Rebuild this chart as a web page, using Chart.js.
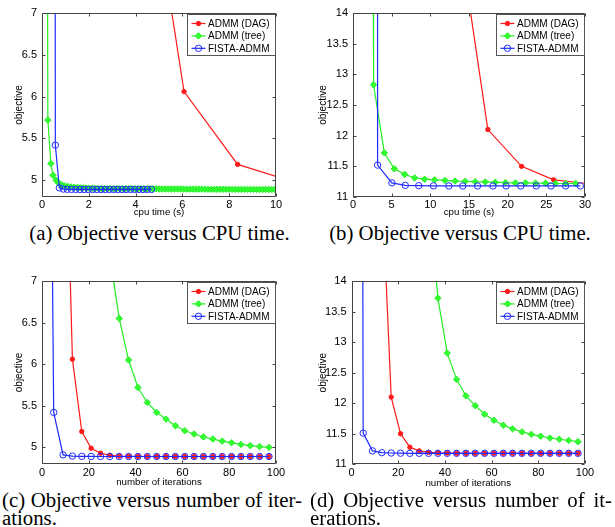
<!DOCTYPE html>
<html><head><meta charset="utf-8">
<script src="https://cdn.jsdelivr.net/npm/chart.js@4"></script>
<style>
html,body{margin:0;padding:0;background:#fff;width:615px;height:527px;overflow:hidden}
body{position:relative}
canvas{position:absolute}
.cap{position:absolute;font-family:"Liberation Serif","Times New Roman",serif;font-size:20.8px;line-height:18px;color:#000;white-space:nowrap}
.just{text-align:justify;text-align-last:justify}
.ctr{text-align:center}
</style></head><body>
<canvas id="ca" width="300" height="218" style="left:0;top:0"></canvas>
<canvas id="cb" width="300" height="218" style="left:305px;top:0"></canvas>
<canvas id="cc" width="300" height="223" style="left:0;top:265px"></canvas>
<canvas id="cd" width="300" height="224" style="left:305px;top:265px"></canvas>
<div class="cap ctr" style="left:22px;top:224px;width:275px">(a) Objective versus CPU time.</div>
<div class="cap ctr" style="left:325px;top:224px;width:270px">(b) Objective versus CPU time.</div>
<div class="cap just" style="left:2px;top:491px;width:300px">(c) Objective versus number of iter-</div>
<div class="cap" style="left:2px;top:509px">ations.</div>
<div class="cap just" style="left:310px;top:491px;width:302px">(d) Objective versus number of it-</div>
<div class="cap" style="left:310px;top:509px">erations.</div>
<script>
// ---------- data ----------
const legendLabels = ['ADMM (DAG)', 'ADMM (tree)', 'FISTA-ADMM'];

// (a) objective vs cpu time (s)
const aDagTime = [3.78, 6.07, 8.36, 10.65];
const aDagObj  = [10.2, 6.06, 5.19, 4.99];
const aTreeTime = [0.2, 0.25, 0.38, 0.47, 0.6,
  0.72, 0.85, 0.98, 1.11, 1.24, 1.37, 1.5, 1.63, 1.76, 1.89, 2.02, 2.15, 2.28, 2.41, 2.54, 2.67, 2.8,
  2.93, 3.06, 3.19, 3.32, 3.45, 3.58, 3.71, 3.84,
  3.97, 4.1, 4.23, 4.36, 4.49, 4.62, 4.75, 4.88,
  5.01, 5.14, 5.27, 5.4, 5.53, 5.66, 5.79, 5.92,
  6.05, 6.18, 6.31, 6.44, 6.57, 6.7, 6.83, 6.96,
  7.09, 7.22, 7.35, 7.48, 7.61, 7.74, 7.87, 8.0,
  8.13, 8.26, 8.39, 8.52, 8.65, 8.78, 8.91, 9.04,
  9.17, 9.3, 9.43, 9.56, 9.69, 9.82, 9.95];
const aTreeObj = [12, 5.72, 5.2, 5.06, 5.0,
  4.965, 4.945, 4.932, 4.925, 4.92, 4.916, 4.913, 4.911, 4.909, 4.907, 4.906, 4.905, 4.904, 4.903, 4.902, 4.901, 4.9,
  4.9, 4.9, 4.9, 4.9, 4.9, 4.9, 4.9, 4.9,
  4.898, 4.898, 4.898, 4.898, 4.898, 4.898, 4.898, 4.898,
  4.896, 4.896, 4.896, 4.896, 4.896, 4.896, 4.896, 4.896,
  4.894, 4.894, 4.894, 4.894, 4.894, 4.894, 4.894, 4.894,
  4.892, 4.892, 4.892, 4.892, 4.892, 4.892, 4.892, 4.892,
  4.891, 4.891, 4.891, 4.891, 4.891, 4.891, 4.891, 4.891,
  4.89, 4.89, 4.89, 4.89, 4.89, 4.89, 4.89];
const aFistaTime = [0.53, 0.57, 0.74, 0.91, 1.08, 1.26, 1.44, 1.62, 1.8, 1.98, 2.16, 2.34, 2.52,
  2.7, 2.88, 3.06, 3.24, 3.42, 3.6, 3.78, 3.96, 4.14, 4.32, 4.5, 4.68];
const aFistaObj = [18, 5.42, 4.91, 4.895, 4.892, 4.891, 4.89, 4.89, 4.89, 4.89, 4.89, 4.89, 4.89,
  4.89, 4.89, 4.89, 4.89, 4.89, 4.89, 4.89, 4.89, 4.89, 4.89, 4.89, 4.89];

// (b) objective vs cpu time (s)
const bDagTime = [13.1, 17.44, 21.8, 25.95, 30.3];
const bDagObj  = [15.8, 12.1, 11.5, 11.28, 11.22];
const bTreeTime = [2.6, 2.66, 4.05, 5.34, 6.67, 7.96, 9.26, 10.55, 11.9, 13.2, 14.5, 15.8, 17.1,
  18.4, 19.7, 21.0, 22.3, 23.6, 24.9, 26.2, 27.5, 28.8];
const bTreeObj = [16, 12.83, 11.72, 11.46, 11.37, 11.31, 11.29, 11.28, 11.27, 11.26, 11.255, 11.25, 11.245,
  11.24, 11.235, 11.23, 11.23, 11.225, 11.225, 11.22, 11.22, 11.22];
const bFistaTime = [3.15, 3.18, 5.03, 6.76, 8.5, 10.4, 12.4, 14.2, 16.1, 18.1, 19.8, 21.7, 23.7, 25.6, 27.5, 29.4];
const bFistaObj = [40, 11.52, 11.23, 11.19, 11.185, 11.182, 11.18, 11.18, 11.18, 11.18, 11.18, 11.18, 11.18, 11.18, 11.18, 11.18];

// (c), (d) objective vs number of iterations
const iterations = [1, 5, 9, 13, 17, 21, 25, 29, 33, 37, 41, 45, 49, 53, 57, 61, 65, 69, 73, 77, 81, 85, 89, 93, 97];
const cDagObj = [60, 30, 10.2, 6.06, 5.19, 4.99, 4.93, 4.905, 4.895, 4.892, 4.891, 4.89, 4.89,
  4.89, 4.89, 4.89, 4.89, 4.89, 4.89, 4.89, 4.89, 4.89, 4.89, 4.89, 4.89];
const cTreeObj = [27, 21, 17, 14, 11.6, 9.8, 8.4, 7.3, 6.55, 6.05, 5.72, 5.54, 5.42, 5.34, 5.26,
  5.2, 5.16, 5.125, 5.1, 5.075, 5.055, 5.035, 5.022, 5.01, 5.0];
const cFistaObj = [18, 5.42, 4.91, 4.895, 4.892, 4.891, 4.89, 4.89, 4.89, 4.89, 4.89, 4.89, 4.89,
  4.89, 4.89, 4.89, 4.89, 4.89, 4.89, 4.89, 4.89, 4.89, 4.89, 4.89, 4.89];
const dDagObj = [60, 35, 22, 15.6, 12.1, 11.5, 11.28, 11.22, 11.195, 11.187, 11.183, 11.18, 11.18,
  11.18, 11.18, 11.18, 11.18, 11.18, 11.18, 11.18, 11.18, 11.18, 11.18, 11.18, 11.18];
const dTreeObj = [56, 46, 38, 32, 27, 23, 20, 17.5, 15.4, 13.72, 12.82, 12.39, 12.12, 11.96, 11.82,
  11.72, 11.64, 11.58, 11.53, 11.49, 11.46, 11.43, 11.41, 11.39, 11.37];
const dFistaObj = [80, 11.51, 11.22, 11.19, 11.185, 11.182, 11.18, 11.18, 11.18, 11.18, 11.18, 11.18, 11.18,
  11.18, 11.18, 11.18, 11.18, 11.18, 11.18, 11.18, 11.18, 11.18, 11.18, 11.18, 11.18];

// tick labels
const timeTicksA = [0, 2, 4, 6, 8, 10];
const timeTicksB = [0, 5, 10, 15, 20, 25, 30];
const iterTicks = [0, 20, 40, 60, 80, 100];
const objTicksSmall = [5, 5.5, 6, 6.5, 7];
const objTicksLarge = [11, 11.5, 12, 12.5, 13, 13.5, 14];
const xTitleTime = 'cpu time (s)';
const xTitleIter = 'number of iterations';
const yTitle = 'objective';

// ---------- drawing ----------
const RED = '#ff1a1a', GREEN = '#22ee22', BLUE = '#1f2bff';
const styles = [
  {color: RED, pointStyle: 'circle', radius: 2.2, fill: RED},
  {color: GREEN, pointStyle: 'rectRot', radius: 3.2, fill: '#33ff33'},
  {color: BLUE, pointStyle: 'circle', radius: 3.2, fill: 'rgba(0,0,0,0)'}
];

function drawMarker(ctx, st, x, y) {
  ctx.save();
  ctx.lineWidth = 1;
  ctx.strokeStyle = st.color;
  ctx.fillStyle = st.fill;
  ctx.beginPath();
  if (st.pointStyle === 'rectRot') {
    const r = st.radius;
    ctx.moveTo(x, y - r); ctx.lineTo(x + r, y); ctx.lineTo(x, y + r); ctx.lineTo(x - r, y); ctx.closePath();
  } else {
    ctx.arc(x, y, st.radius, 0, Math.PI * 2);
  }
  ctx.fill(); ctx.stroke();
  ctx.restore();
}

const framePlugin = {
  id: 'frame',
  afterDatasetsDraw(chart) {
    const {ctx, chartArea: a} = chart;
    const xs = chart.scales.x, ys = chart.scales.y;
    const L = Math.round(a.left) + 0.5, R = Math.round(a.right) - 0.5;
    const T = Math.round(a.top) + 0.5, B = Math.round(a.bottom) - 0.5;
    ctx.save();
    ctx.strokeStyle = '#444';
    ctx.lineWidth = 1;
    ctx.beginPath();
    ctx.rect(L, T, R - L, B - T);
    const tl = 3;
    xs.ticks.forEach(t => {
      const p = Math.round(xs.getPixelForValue(t.value)) + 0.5;
      ctx.moveTo(p, B); ctx.lineTo(p, B - tl);
      ctx.moveTo(p, T); ctx.lineTo(p, T + tl);
    });
    ys.ticks.forEach(t => {
      const p = Math.round(ys.getPixelForValue(t.value)) + 0.5;
      ctx.moveTo(L, p); ctx.lineTo(L + tl, p);
      ctx.moveTo(R, p); ctx.lineTo(R - tl, p);
    });
    ctx.stroke();
    // legend box (top-right, inside axes)
    const w = 88, h = 41;
    const bx = R - w, by = T + 1;
    ctx.fillStyle = '#fff';
    ctx.fillRect(bx, by, w, h);
    ctx.strokeStyle = '#555';
    ctx.strokeRect(bx, by, w, h);
    ctx.font = '10px "Liberation Sans", Arial, sans-serif';
    ctx.textBaseline = 'middle';
    ctx.textAlign = 'left';
    chart.data.datasets.forEach((ds, i) => {
      const st = styles[i];
      const yy = by + 9 + i * 12.4;
      ctx.strokeStyle = st.color;
      ctx.lineWidth = 1.2;
      ctx.beginPath();
      ctx.moveTo(bx + 4, yy); ctx.lineTo(bx + 18, yy);
      ctx.stroke();
      drawMarker(ctx, st, bx + 11, yy);
      ctx.fillStyle = '#000';
      ctx.fillText(ds.label, bx + 20.5, yy + 0.5);
    });
    ctx.restore();
  }
};

function pts(xs, ys) { return xs.map((v, i) => ({x: v, y: ys[i]})); }
const plainNum = v => String(v);

function makeChart(id, series, xr, yr, xTicks, yTicks, xTitle, lay) {
  const datasets = series.map((s, i) => ({
    label: legendLabels[i],
    data: pts(s[0], s[1]),
    showLine: true,
    borderColor: styles[i].color,
    borderWidth: 1.2,
    pointStyle: styles[i].pointStyle,
    pointRadius: styles[i].radius,
    pointBorderWidth: 1,
    pointBorderColor: styles[i].color,
    pointBackgroundColor: styles[i].fill,
    tension: 0,
    order: 2 - i
  }));
  return new Chart(document.getElementById(id), {
    type: 'scatter',
    data: {datasets},
    options: {
      responsive: false,
      animation: false,
      devicePixelRatio: 1,
      layout: {padding: {left: lay.pl, top: lay.pt, right: lay.pr, bottom: 0}},
      plugins: {legend: {display: false}, tooltip: {enabled: false}},
      scales: {
        x: {
          type: 'linear', min: xr[0], max: xr[1],
          grid: {display: false, drawTicks: false, tickLength: 0}, border: {display: false},
          afterBuildTicks: s => { s.ticks = xTicks.map(v => ({value: v})); },
          afterFit: s => { s.height = lay.xh; },
          ticks: {color: '#000', font: {size: 11}, padding: lay.xp, maxRotation: 0, autoSkip: false, callback: plainNum},
          title: {display: true, text: xTitle, color: '#000', font: {size: 9.7}, padding: 0}
        },
        y: {
          type: 'linear', min: yr[0], max: yr[1],
          grid: {display: false, drawTicks: false, tickLength: 0}, border: {display: false},
          afterBuildTicks: s => { s.ticks = yTicks.map(v => ({value: v})); },
          afterFit: s => { s.width = lay.yw; },
          ticks: {color: '#000', font: {size: 11}, padding: 5, autoSkip: false, callback: plainNum},
          title: {display: true, text: yTitle, color: '#000', font: {size: 10}, padding: 0}
        }
      }
    },
    plugins: [framePlugin]
  });
}

Chart.defaults.font.family = '"Liberation Sans", Arial, Helvetica, sans-serif';

makeChart('ca', [[aDagTime, aDagObj], [aTreeTime, aTreeObj], [aFistaTime, aFistaObj]],
  [0, 10], [4.8, 7], timeTicksA, objTicksSmall, xTitleTime,
  {pl: 13, pt: 13, pr: 24, yw: 29, xh: 21, xp: 1});
makeChart('cb', [[bDagTime, bDagObj], [bTreeTime, bTreeObj], [bFistaTime, bFistaObj]],
  [0, 30], [11, 14], timeTicksB, objTicksLarge, xTitleTime,
  {pl: 12.3, pt: 13, pr: 20, yw: 35.7, xh: 21, xp: 1});
makeChart('cc', [[iterations, cDagObj], [iterations, cTreeObj], [iterations, cFistaObj]],
  [0, 100], [4.8, 7], iterTicks, objTicksSmall, xTitleIter,
  {pl: 13, pt: 16, pr: 24, yw: 29, xh: 24, xp: 2});
makeChart('cd', [[iterations, dDagObj], [iterations, dTreeObj], [iterations, dFistaObj]],
  [0, 100], [11, 14], iterTicks, objTicksLarge, xTitleIter,
  {pl: 12.3, pt: 16, pr: 20, yw: 34.2, xh: 24.7, xp: 2});
</script>
</body></html>
